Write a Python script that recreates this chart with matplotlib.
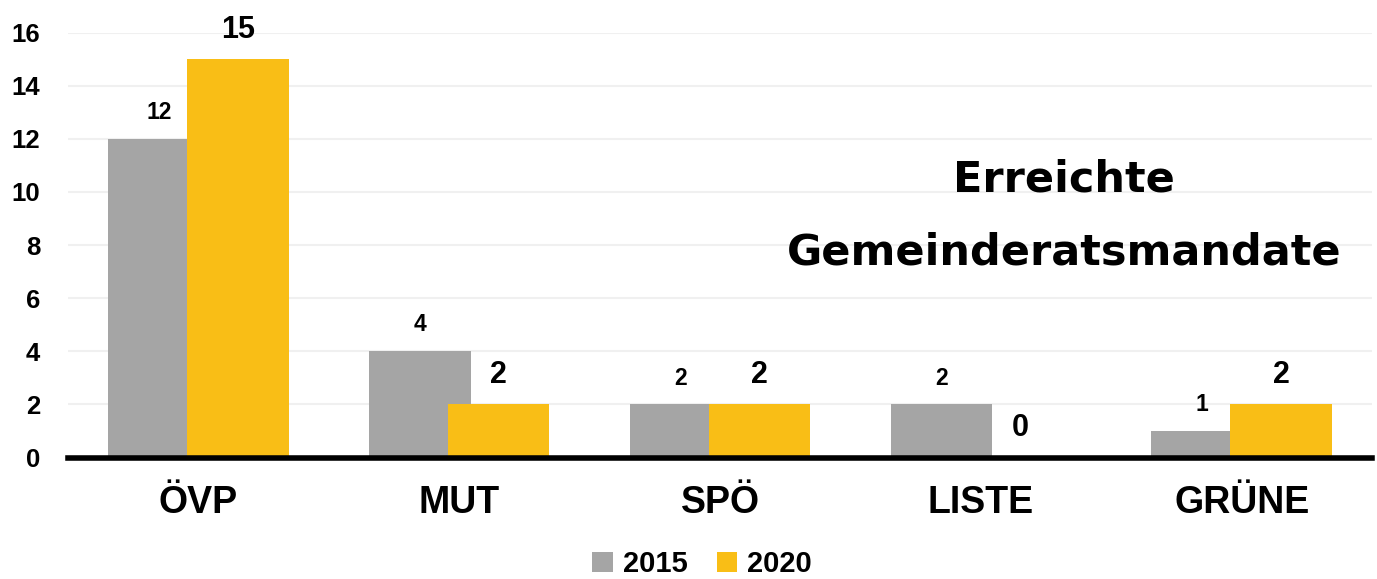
import matplotlib.pyplot as plt
import numpy as np

plt.rcParams['font.family'] = ['Liberation Sans', 'DejaVu Sans']
plt.rcParams['font.weight'] = 'bold'

# data
parties = ['ÖVP', 'MUT', 'SPÖ', 'LISTE', 'GRÜNE']
seats_2015 = [12, 4, 2, 2, 1]
seats_2020 = [15, 2, 2, 0, 2]
years = ['2015', '2020']
yticks = [0, 2, 4, 6, 8, 10, 12, 14, 16]

grey = '#A5A5A5'
yellow = '#F9BE16'

fig = plt.figure(figsize=(13.77, 5.79), dpi=100)
ax = fig.add_axes([0.0494, 0.2098, 0.947, 0.734])

x = np.arange(len(parties))
w = 0.39
off = 0.151
b1 = ax.bar(x - off, seats_2015, w, color=grey, zorder=2, label=years[0])
b2 = ax.bar(x + off, seats_2020, w, color=yellow, zorder=3, label=years[1])

# value labels
for i, v in enumerate(seats_2015):
    ax.annotate(str(v), (x[i] - off, v), xytext=(0, 19), textcoords='offset points',
                ha='center', va='center', fontsize=16.5, fontweight='bold')
for i, v in enumerate(seats_2020):
    ax.annotate(str(v), (x[i] + off, v), xytext=(0, 21), textcoords='offset points',
                ha='center', va='center', fontsize=22, fontweight='bold')

ax.set_xlim(-0.5, len(parties) - 0.5)
ax.set_ylim(0, 16)
ax.set_yticks(yticks)
ax.set_yticklabels([str(t) for t in yticks], fontsize=18.5, fontweight='bold')
ax.set_xticks(x)
ax.set_xticklabels(parties, fontsize=27, fontweight='bold')
ax.tick_params(axis='both', length=0)
ax.tick_params(axis='y', pad=20)
ax.tick_params(axis='x', pad=20)
ax.grid(axis='y', color='#F0F0F0', linewidth=1.5, zorder=0)
for s in ['top', 'right', 'left']:
    ax.spines[s].set_visible(False)
ax.spines['bottom'].set_linewidth(4)
ax.spines['bottom'].set_zorder(5)

ax.text(0.764, 0.568, 'Erreichte\nGemeinderatsmandate', transform=ax.transAxes,
        ha='center', va='center', fontsize=31, fontweight='bold', linespacing=1.92,
        family=['DejaVu Sans'])

fig.legend(handles=[b1, b2], loc='center', bbox_to_anchor=(0.51, 0.026), ncol=2,
           frameon=False, handlelength=0.7, handleheight=0.7,
           handletextpad=0.35, columnspacing=1.0, prop={'weight': 'bold', 'size': 21})

fig.savefig('out.png', dpi=100)
